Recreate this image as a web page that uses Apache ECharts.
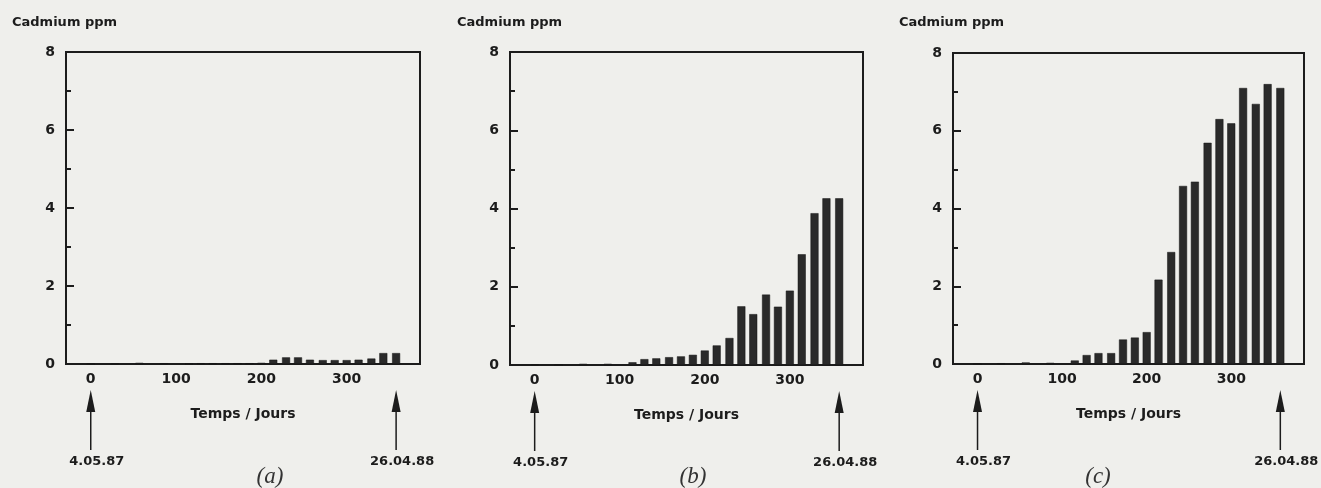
<!DOCTYPE html>
<html>
<head>
<meta charset="utf-8">
<script src="https://cdn.jsdelivr.net/npm/echarts@6/dist/echarts.min.js"></script>
<style>
html,body{margin:0;padding:0;background:#efefec;}
#c{width:1321px;height:488px;}
</style>
</head>
<body>
<div id="c"></div>
<script>
// ---- data ----
const days = [0, 28, 57, 86, 115, 129, 143, 158, 172, 186, 200, 214, 229, 243, 257, 272, 286, 300, 314, 329, 343, 358];
const cadmiumA = [0.01, 0.01, 0.03, 0.02, 0.01, 0.02, 0.02, 0.02, 0.02, 0.02, 0.03, 0.11, 0.17, 0.17, 0.11, 0.10, 0.10, 0.10, 0.11, 0.14, 0.28, 0.28];
const cadmiumB = [0.01, 0.01, 0.03, 0.03, 0.07, 0.15, 0.17, 0.20, 0.22, 0.26, 0.37, 0.50, 0.69, 1.50, 1.30, 1.80, 1.49, 1.90, 2.83, 3.88, 4.26, 4.26];
const cadmiumC = [0.01, 0.02, 0.04, 0.03, 0.09, 0.23, 0.28, 0.28, 0.63, 0.68, 0.82, 2.17, 2.88, 4.58, 4.69, 5.69, 6.30, 6.19, 7.10, 6.69, 7.20, 7.10];
const xTickLabels = [0, 100, 200, 300];
const eventDays = [0, 358];
const eventLabels = ['4.05.87', '26.04.88'];
const panelLetters = ['(a)', '(b)', '(c)'];
const yTitle = 'Cadmium ppm';
const xTitle = 'Temps / Jours';

// ---- layout/style ----
const ink = '#1c1c1c';
const font = 'DejaVu Sans';
const grids = [
  {left: 66, top: 52, width: 354, height: 312},
  {left: 510, top: 52, width: 353, height: 313},
  {left: 953, top: 53, width: 351, height: 311}
];
const titleLeft = [12, 457, 899];
const letterX = [270, 693, 1098];
const series = [cadmiumA, cadmiumB, cadmiumC];

const option = {
  backgroundColor: '#efefec',
  animation: false,
  title: grids.map((g, i) => ({
    text: yTitle, left: titleLeft[i], top: 16, padding: 0,
    textStyle: {fontFamily: font, fontWeight: 'bold', fontSize: 13, color: ink}
  })),
  grid: grids.map(g => Object.assign({show: true, borderColor: ink, borderWidth: 2, backgroundColor: 'transparent'}, g)),
  xAxis: grids.map((g, i) => ({
    type: 'value', gridIndex: i, min: -29, max: 386,
    name: xTitle, nameLocation: 'middle', nameGap: 43,
    nameTextStyle: {fontFamily: font, fontWeight: 'bold', fontSize: 14, color: ink},
    axisLine: {show: true, onZero: false, lineStyle: {color: ink, width: 2}},
    axisTick: {show: false},
    splitLine: {show: false},
    axisLabel: {customValues: xTickLabels, margin: 8, fontFamily: font, fontWeight: 'bold', fontSize: 14, color: ink}
  })),
  yAxis: grids.map((g, i) => ({
    type: 'value', gridIndex: i, min: 0, max: 8, interval: 2,
    axisLine: {show: true, onZero: false, lineStyle: {color: ink, width: 2}},
    axisTick: {show: true, inside: true, length: 8, lineStyle: {color: ink, width: 2}},
    minorTick: {show: true, splitNumber: 2, length: 5, lineStyle: {color: ink, width: 2}},
    splitLine: {show: false},
    axisLabel: {margin: 11, fontFamily: font, fontWeight: 'bold', fontSize: 14, color: ink}
  })),
  graphic: panelLetters.map((t, i) => ({
    type: 'text', x: letterX[i], y: 477,
    style: {text: t, font: 'italic 23px "Liberation Serif"', fill: '#333', textAlign: 'center', textVerticalAlign: 'middle'}
  })),
  series: []
};

series.forEach((vals, i) => {
  option.series.push({
    type: 'bar', xAxisIndex: i, yAxisIndex: i, barWidth: 8,
    data: days.map((d, k) => [d, vals[k]]),
    itemStyle: {color: '#2a2a2a', borderColor: '#151515', borderWidth: 0.5}
  });
  option.series.push({
    type: 'custom', xAxisIndex: i, yAxisIndex: i, clip: false, silent: true,
    data: eventDays.map((d, k) => [d, 0, k]),
    renderItem: function (params, api) {
      const p = api.coord([api.value(0), 0]);
      const x = p[0], y = p[1];
      return {
        type: 'group',
        children: [
          {type: 'line', shape: {x1: x, y1: y + 44, x2: x, y2: y + 86}, style: {stroke: ink, lineWidth: 1.5}},
          {type: 'polygon', shape: {points: [[x, y + 26], [x - 4.5, y + 48], [x + 4.5, y + 48]]}, style: {fill: ink}},
          {type: 'text', style: {text: eventLabels[api.value(2)], x: x + 6, y: y + 98, textAlign: 'center', textVerticalAlign: 'middle',
            font: 'bold 13px "' + font + '"', fill: ink}}
        ]
      };
    }
  });
});

const chart = echarts.init(document.getElementById('c'));
chart.setOption(option);
</script>
</body>
</html>
